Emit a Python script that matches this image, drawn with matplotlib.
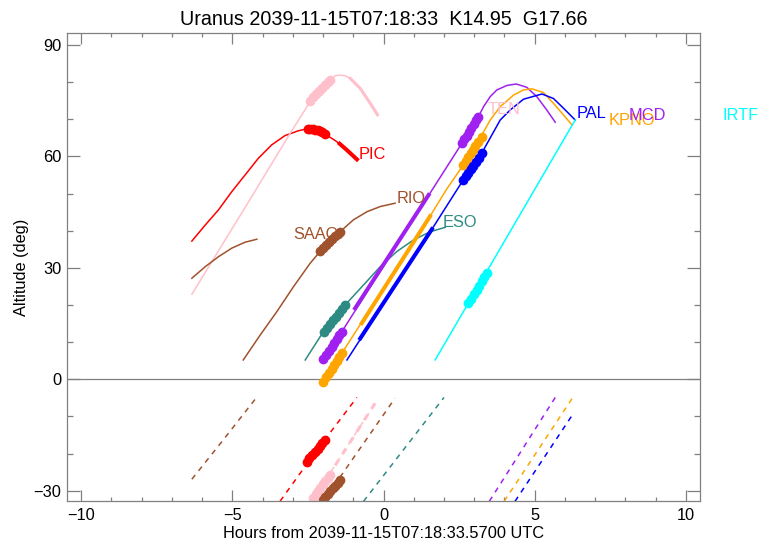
import matplotlib
matplotlib.use("Agg")
import matplotlib.pyplot as plt
from matplotlib.ticker import MultipleLocator

plt.rcParams["font.family"] = ["Liberation Sans", "DejaVu Sans"]

# * valores (horas, altitude em graus)
# PIC (vermelho)
pic_h = [-6.34, -5.90, -5.46, -5.02, -4.58, -4.14, -3.70, -3.26, -2.82, -2.54,
         -2.25, -1.93, -1.55, -1.21, -0.88]
pic_alt = [37.2, 41.5, 45.6, 50.5, 55.0, 59.5, 63.1, 65.6, 66.9, 67.4,
           67.1, 66.0, 64.0, 61.7, 59.2]
pic_grosso1_h = [-2.54, -2.25, -1.93]
pic_grosso1_alt = [67.4, 67.1, 66.0]
pic_grosso2_h = [-1.45, -1.21, -0.88]
pic_grosso2_alt = [63.4, 61.7, 59.2]
pic_pts_h = [-2.5, -2.42, -2.34, -2.26, -2.18, -2.1, -2.02, -1.93]
pic_pts_alt = [67.4, 67.35, 67.3, 67.2, 67.0, 66.8, 66.5, 66.1]
pic_tr_h = [-3.42, -2.2, -0.88]
pic_tr_alt = [-32.8, -19.0, -4.9]
pic_tr_pts_h = [-2.54, -2.45, -2.36, -2.27, -2.18, -2.1, -2.02, -1.93]
pic_tr_pts_alt = [-22.2, -21.3, -20.5, -19.6, -18.8, -17.9, -17.1, -16.3]

# TEN (rosa)
ten_h = [-6.34, -4.5, -3.09, -2.43, -2.1, -1.77, -1.60, -1.46, -1.27, -1.10,
         -0.77, -0.44, -0.2]
ten_alt = [22.9, 47.3, 66.2, 74.7, 78.0, 80.6, 81.7, 81.9, 81.7, 81.0,
           78.3, 74.3, 71.2]
ten_grosso_h = [-1.10, -0.77, -0.44, -0.2]
ten_grosso_alt = [81.0, 78.3, 74.3, 71.2]
ten_pts_h = [-2.43, -2.33, -2.23, -2.13, -2.03, -1.93, -1.85, -1.77]
ten_pts_alt = [74.8, 75.9, 76.9, 77.7, 78.5, 79.3, 80.0, 80.6]
ten_tr_h = [-2.5, -0.22]
ten_tr_alt = [-34.5, -5.7]
ten_tr_grosso_h = [-1.6, -0.22]
ten_tr_grosso_alt = [-23.2, -5.7]
ten_tr_pts_h = [-2.33, -2.25, -2.17, -2.09, -2.01, -1.93, -1.85, -1.77]
ten_tr_pts_alt = [-31.9, -31.0, -30.1, -29.2, -28.3, -27.5, -26.7, -25.8]

# SAAO (marrom, curva curta)
saao_h = [-6.34, -5.90, -5.46, -5.02, -4.58, -4.19]
saao_alt = [27.2, 30.3, 33.0, 35.3, 36.9, 37.7]
saao_tr_h = [-6.34, -5.3, -4.22]
saao_tr_alt = [-26.9, -16.3, -5.1]

# RIO (marrom)
rio_h = [-4.64, -4.08, -3.53, -2.98, -2.43, -2.10, -1.44, -1.0, -0.55, -0.11, 0.38]
rio_alt = [5.2, 11.9, 18.2, 24.9, 31.2, 34.4, 39.7, 42.9, 45.1, 46.5, 47.4]
rio_pts_h = [-2.1, -2.0, -1.9, -1.8, -1.7, -1.6, -1.52, -1.44]
rio_pts_alt = [34.4, 35.3, 36.1, 36.9, 37.7, 38.5, 39.1, 39.7]
rio_tr_h = [-2.05, 0.38]
rio_tr_alt = [-33.5, -5.1]
rio_tr_pts_h = [-2.0, -1.92, -1.84, -1.76, -1.68, -1.6, -1.52, -1.44]
rio_tr_pts_alt = [-32.5, -31.7, -30.9, -30.1, -29.4, -28.6, -27.8, -27.0]

# ESO (verde-azulado)
eso_h = [-2.59, -1.99, -1.27, -0.66, -0.11, 0.44, 0.99, 1.54, 2.04]
eso_alt = [5.2, 12.8, 20.0, 25.4, 30.3, 34.4, 37.5, 39.7, 40.9]
eso_pts_h = [-1.98, -1.88, -1.78, -1.68, -1.58, -1.48, -1.38, -1.27]
eso_pts_alt = [12.8, 13.8, 14.9, 15.9, 16.9, 17.9, 18.9, 20.0]
eso_tr_h = [-0.66, 2.0]
eso_tr_alt = [-32.85, -4.9]

# MCD (roxo)
mcd_h = [-1.99, -1.38, 0.0, 1.5, 2.59, 3.14, 3.31, 3.53, 3.75, 4.08, 4.39, 4.74,
         5.07, 5.40, 5.68]
mcd_alt = [5.2, 12.8, 30.5, 49.6, 63.5, 70.7, 73.4, 76.1, 77.9, 79.1, 79.5, 78.6,
           76.1, 72.5, 69.2]
mcd_grosso_h = [-0.94, 1.49]
mcd_grosso_alt = [19.1, 49.6]
mcd_pts_h = [-1.99, -1.9, -1.81, -1.72, -1.63, -1.54, -1.46, -1.38,
             2.59, 2.67, 2.75, 2.83, 2.91, 2.99, 3.07, 3.14]
mcd_pts_alt = [5.4, 6.5, 7.6, 8.7, 9.8, 10.9, 11.9, 12.8,
               63.5, 64.6, 65.6, 66.6, 67.7, 68.7, 69.8, 70.7]
mcd_tr_h = [3.5, 5.68]
mcd_tr_alt = [-32.85, -4.9]

# KPNO (laranja)
kpno_h = [-1.99, -1.38, 0.0, 1.5, 2.09, 2.64, 3.2, 3.53, 3.86, 4.30, 4.63, 4.91,
          5.29, 5.62, 5.95, 6.23]
kpno_alt = [-0.6, 7.0, 24.5, 43.4, 51.2, 57.7, 65.0, 69.8, 73.4, 76.5, 77.9, 78.2,
            77.2, 74.3, 71.2, 68.5]
kpno_grosso_h = [-0.72, 1.54]
kpno_grosso_alt = [15.1, 43.9]
kpno_pts_h = [-1.99, -1.9, -1.81, -1.72, -1.63, -1.54, -1.46, -1.38,
              2.64, 2.72, 2.8, 2.88, 2.96, 3.04, 3.14, 3.25]
kpno_pts_alt = [-0.6, 0.5, 1.7, 2.8, 3.9, 5.0, 6.0, 7.0,
                57.7, 58.8, 59.8, 60.8, 61.8, 62.8, 64.0, 65.3]
kpno_tr_h = [3.99, 6.26]
kpno_tr_alt = [-32.85, -4.9]

# PAL (azul)
pal_h = [-1.21, 0.0, 1.6, 2.64, 3.25, 3.86, 4.19, 4.63, 5.24, 5.62, 5.95, 6.34]
pal_alt = [5.2, 20.4, 40.4, 53.7, 60.9, 69.8, 72.5, 75.4, 76.8, 75.6, 73.0, 69.8]
pal_grosso_h = [-0.77, 1.6]
pal_grosso_alt = [11.0, 40.4]
pal_pts_h = [2.64, 2.72, 2.8, 2.88, 2.96, 3.05, 3.15, 3.25]
pal_pts_alt = [53.7, 54.6, 55.6, 56.5, 57.5, 58.5, 59.7, 60.9]
pal_tr_h = [4.35, 6.28]
pal_tr_alt = [-32.85, -9.2]

# IRTF (ciano)
irtf_h = [1.71, 6.34]
irtf_alt = [5.2, 69.8]
irtf_pts_h = [2.81, 2.9, 2.99, 3.08, 3.17, 3.26, 3.34, 3.42]
irtf_pts_alt = [20.5, 21.7, 22.9, 24.1, 25.2, 26.4, 27.5, 28.5]

# rotulos (nome, hora, altitude)
rotulos = ["PIC", "RIO", "SAAO", "ESO", "TEN", "PAL", "KPNO", "MCD", "IRTF"]
rotulos_h = [-0.84, 0.42, -2.99, 1.97, 3.43, 6.4, 7.46, 8.12, 11.2]
rotulos_alt = [60.4, 48.8, 39.1, 42.3, 72.5, 71.6, 69.8, 70.9, 71.1]

vermelho = "#ff0000"
rosa = "#ffc0cb"
marrom = "#a0522d"
teal = "#2e8b84"
roxo = "#a020f0"
laranja = "#ffa500"
azul = "#0000ff"
ciano = "#00ffff"
cores_rotulos = [vermelho, marrom, marrom, teal, rosa, azul, laranja, roxo, ciano]

fino = 1.1
grosso = 2.9
tracejado = (0, (3.5, 3.5))
ms = 6

fig = plt.figure(figsize=(7.73, 5.44), dpi=100)
ax = fig.add_axes([0.0863, 0.0785, 0.8197, 0.86])

ax.axhline(0, color="#808080", lw=0.9)

# PIC
ax.plot(pic_h, pic_alt, color=vermelho, lw=fino)
ax.plot(pic_grosso1_h, pic_grosso1_alt, color=vermelho, lw=grosso, solid_capstyle="round")
ax.plot(pic_grosso2_h, pic_grosso2_alt, color=vermelho, lw=grosso)
ax.plot(pic_pts_h, pic_pts_alt, "o", color=vermelho, ms=ms)
ax.plot(pic_tr_h, pic_tr_alt, color=vermelho, lw=fino, ls=tracejado)
ax.plot(pic_tr_pts_h, pic_tr_pts_alt, "o", color=vermelho, ms=ms)

# TEN
ax.plot(ten_h, ten_alt, color=rosa, lw=fino)
ax.plot(ten_grosso_h, ten_grosso_alt, color=rosa, lw=2.2)
ax.plot(ten_pts_h, ten_pts_alt, "o", color=rosa, ms=ms)
ax.plot(ten_tr_h, ten_tr_alt, color=rosa, lw=fino, ls=tracejado)
ax.plot(ten_tr_grosso_h, ten_tr_grosso_alt, color=rosa, lw=2.2, ls=(0, (2.2, 2.2)))
ax.plot(ten_tr_pts_h, ten_tr_pts_alt, "o", color=rosa, ms=ms)

# SAAO e RIO
ax.plot(saao_h, saao_alt, color=marrom, lw=fino)
ax.plot(saao_tr_h, saao_tr_alt, color=marrom, lw=fino, ls=tracejado)
ax.plot(rio_h, rio_alt, color=marrom, lw=fino)
ax.plot(rio_pts_h, rio_pts_alt, color=marrom, lw=grosso)
ax.plot(rio_pts_h, rio_pts_alt, "o", color=marrom, ms=ms)
ax.plot(rio_tr_h, rio_tr_alt, color=marrom, lw=fino, ls=tracejado)
ax.plot(rio_tr_pts_h, rio_tr_pts_alt, "o", color=marrom, ms=ms)

# ESO
ax.plot(eso_h, eso_alt, color=teal, lw=fino)
ax.plot(eso_pts_h, eso_pts_alt, "o", color=teal, ms=ms)
ax.plot(eso_tr_h, eso_tr_alt, color=teal, lw=fino, ls=tracejado)

# MCD, KPNO, PAL
for h, alt, gh, galt, ph, palt, th, talt, cor in [
    (mcd_h, mcd_alt, mcd_grosso_h, mcd_grosso_alt, mcd_pts_h, mcd_pts_alt, mcd_tr_h, mcd_tr_alt, roxo),
    (kpno_h, kpno_alt, kpno_grosso_h, kpno_grosso_alt, kpno_pts_h, kpno_pts_alt, kpno_tr_h, kpno_tr_alt, laranja),
    (pal_h, pal_alt, pal_grosso_h, pal_grosso_alt, pal_pts_h, pal_pts_alt, pal_tr_h, pal_tr_alt, azul),
]:
    ax.plot(h, alt, color=cor, lw=fino)
    ax.plot(gh, galt, color=cor, lw=grosso)
    ax.plot(ph, palt, "o", color=cor, ms=ms)
    ax.plot(th, talt, color=cor, lw=fino, ls=tracejado)

# IRTF
ax.plot(irtf_h, irtf_alt, color=ciano, lw=fino)
ax.plot(irtf_pts_h, irtf_pts_alt, "o", color=ciano, ms=ms)

for nome, x, y, cor in zip(rotulos, rotulos_h, rotulos_alt, cores_rotulos):
    ax.text(x, y, nome, color=cor, fontsize=11.8, ha="left", va="center", clip_on=False)

ax.set_xlim(-10.48, 10.48)
ax.set_ylim(-32.85, 93.1)
ax.xaxis.set_major_locator(MultipleLocator(5))
ax.xaxis.set_minor_locator(MultipleLocator(1))
ax.yaxis.set_major_locator(MultipleLocator(30))
ax.yaxis.set_minor_locator(MultipleLocator(10))
ax.tick_params(which="both", direction="in", top=True, right=True, color="#808080",
               labelsize=11.8, width=0.9)
ax.tick_params(axis="x", which="major", length=7.7, pad=5)
ax.tick_params(axis="x", which="minor", length=3)
ax.tick_params(axis="y", which="major", length=9.5, pad=4)
ax.tick_params(axis="y", which="minor", length=4.3)
for s in ax.spines.values():
    s.set_color("#808080")
    s.set_linewidth(0.9)

ax.set_title("Uranus 2039-11-15T07:18:33  K14.95  G17.66", fontsize=14.2, pad=6)
ax.set_xlabel("Hours from 2039-11-15T07:18:33.5700 UTC", fontsize=11.8, labelpad=2)
ax.set_ylabel("Altitude (deg)", fontsize=11.8, labelpad=3)

plt.savefig("out.png", dpi=100)
